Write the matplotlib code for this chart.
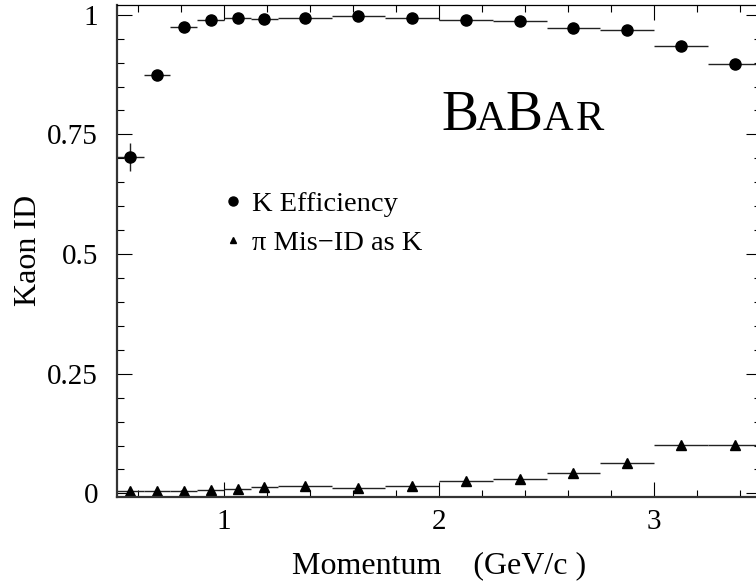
import matplotlib
matplotlib.use("Agg")
from matplotlib import pyplot as plt
from matplotlib.lines import Line2D
from matplotlib.ticker import MultipleLocator, FixedLocator, FixedFormatter

# momentum bins (GeV/c)
p_center = [0.5625, 0.6875, 0.8125, 0.9375, 1.0625, 1.1875, 1.375, 1.625,
            1.875, 2.125, 2.375, 2.625, 2.875, 3.125, 3.375]
p_half = [0.0625, 0.0625, 0.0625, 0.0625, 0.0625, 0.0625, 0.125, 0.125,
          0.125, 0.125, 0.125, 0.125, 0.125, 0.125, 0.125]

# kaon efficiency
k_eff = [0.703, 0.874, 0.974, 0.990, 0.994, 0.992, 0.994, 0.997,
         0.994, 0.990, 0.987, 0.972, 0.968, 0.935, 0.898]
k_err = [0.03, 0.006, 0.004, 0.003, 0.003, 0.003, 0.002, 0.002,
         0.002, 0.002, 0.002, 0.003, 0.003, 0.004, 0.005]

# pion mis-id as kaon
pi_mis = [0.005, 0.005, 0.004, 0.007, 0.009, 0.013, 0.015, 0.012,
          0.015, 0.025, 0.031, 0.042, 0.063, 0.101, 0.101]
pi_err = [0.001, 0.001, 0.001, 0.001, 0.001, 0.001, 0.001, 0.001,
          0.001, 0.002, 0.002, 0.002, 0.003, 0.004, 0.004]

x_ticks = [1, 2, 3]
y_ticks = [0, 0.25, 0.5, 0.75, 1]
y_ticklabels = ["0", "0.25", "0.5", "0.75", "1"]

plt.rcParams['font.family'] = ['Liberation Serif', 'DejaVu Serif']

fig = plt.figure(figsize=(7.56, 5.86), dpi=100)
W, H = 756, 586
ax = fig.add_axes([116.7 / W, 1 - 496.7 / H, (761.5 - 116.7) / W, (496.7 - 5) / H])

ax.errorbar(p_center, k_eff, xerr=p_half, yerr=k_err, fmt='o', color='black',
            ecolor='#222222', elinewidth=1, capsize=0, markersize=8)
ax.errorbar(p_center, pi_mis, xerr=p_half, yerr=pi_err, fmt='^', color='black',
            ecolor='#222222', elinewidth=1, capsize=0, markersize=6.5)

ax.set_xlim(0.5, 3.5)
ax.set_ylim(-0.0069, 1.0203)

ax.xaxis.set_major_locator(FixedLocator(x_ticks))
ax.xaxis.set_minor_locator(MultipleLocator(0.2))
ax.yaxis.set_major_locator(FixedLocator(y_ticks))
ax.yaxis.set_major_formatter(FixedFormatter(y_ticklabels))
ax.yaxis.set_minor_locator(MultipleLocator(0.05))

ax.tick_params(which='both', direction='in', top=True, right=True, width=0.8, color='black')
ax.tick_params(which='major', length=10.5)
ax.tick_params(which='minor', length=5)
ax.tick_params(axis='x', which='major', labelsize=21, pad=8.5)
ax.tick_params(axis='y', which='major', labelsize=21, pad=13.5)

for s in ['left', 'bottom']:
    ax.spines[s].set_linewidth(1.6)
    ax.spines[s].set_color('#333333')
ax.spines['top'].set_linewidth(0.9)
ax.spines['right'].set_visible(False)

ax.set_xlabel("Momentum    (GeV/c )", fontsize=23, labelpad=12)
ax.set_ylabel("Kaon ID", fontsize=23, labelpad=3)

handles = [Line2D([], [], linestyle='none', marker='o', color='black', markersize=6.5),
           Line2D([], [], linestyle='none', marker='^', color='black', markersize=5)]
ax.legend(handles, ["K Efficiency", "\u03c0 Mis\u2212ID as K"], loc='upper left',
          bbox_to_anchor=(222 / W, 1 - 191 / H), bbox_transform=fig.transFigure,
          frameon=False, fontsize=20.5, handlelength=0.8, handletextpad=0.25,
          labelspacing=0.45, borderpad=0, borderaxespad=0)

# BaBar logo in small caps
logo = [("B", 441.0, 40), ("A", 475.5, 30.5), ("B", 505.0, 40), ("A", 542.5, 30.5), ("R", 576.0, 30.5)]
for ch, px, fs in logo:
    fig.text(px / W, 1 - 130 / H, ch, fontsize=fs, ha='left', va='baseline')

fig.savefig("out.png", dpi=100)
